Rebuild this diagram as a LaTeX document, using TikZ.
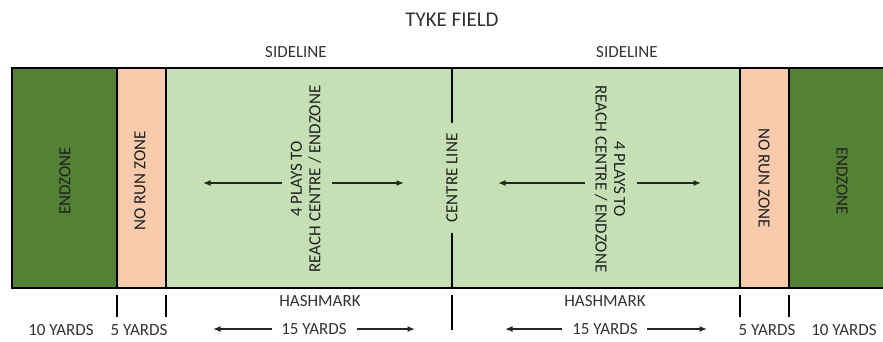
\documentclass[tikz,border=0pt]{standalone}
\usepackage{fontspec}
\setmainfont{Carlito}
\usetikzlibrary{arrows.meta}

\definecolor{endgreen}{HTML}{548235}
\definecolor{runpeach}{HTML}{F8CBAD}
\definecolor{playgreen}{HTML}{C5E0B4}
\definecolor{labelgray}{HTML}{333333}
\definecolor{fieldtext}{HTML}{202020}

\tikzset{
  lbl/.style={font=\fontsize{17}{20}\selectfont, text=labelgray, inner sep=0pt},
  fieldlbl/.style={font=\fontsize{17}{18.5}\selectfont, text=fieldtext, inner sep=0pt, align=center},
  border/.style={line width=1.9pt, black},
  tick/.style={line width=1.9pt, black},
  pointer/.style={line width=1.4pt, black!85, -{Latex[length=7.5pt,width=6pt]}},
}

\begin{document}
\begin{tikzpicture}[x=1pt, y=-1pt]
  \useasboundingbox (0,0) rectangle (883,341);

  % zones of the field
  \fill[endgreen]   (12,68)  rectangle (117,288);
  \fill[runpeach]   (117,68) rectangle (166,288);
  \fill[playgreen]  (166,68) rectangle (740,288);
  \fill[runpeach]   (740,68) rectangle (789,288);
  \fill[endgreen]   (789,68) rectangle (895,288);

  % outline and zone dividers
  \draw[border] (895,68) -- (12,68) -- (12,288) -- (895,288);
  \draw[border] (117,68) -- (117,288);
  \draw[border] (166,68) -- (166,288);
  \draw[border] (740,68) -- (740,288);
  \draw[border] (789,68) -- (789,288);

  % headings
  \node[lbl, font=\fontsize{21}{24}\selectfont] (title) at (452,20) {TYKE FIELD};
  \node[lbl] (sideL) at (296,52) {SIDELINE};
  \node[lbl] (sideR) at (627,52) {SIDELINE};

  % zone names
  \node[fieldlbl, rotate=90]  (endL) at (65,181)  {ENDZONE};
  \node[fieldlbl, rotate=-90] (endR) at (842,181) {ENDZONE};
  \node[fieldlbl, rotate=90]  (runL) at (140,181) {NO RUN ZONE};
  \node[fieldlbl, rotate=-90] (runR) at (764,178) {NO RUN ZONE};

  % centre line, broken around its label
  \coordinate (ctop) at (452,68);
  \coordinate (cbot) at (452,288);
  \node[fieldlbl, rotate=90, inner xsep=10pt] (cl) at (452,178) {CENTRE LINE};
  \draw[border] (ctop) -- (cl.east);
  \draw[border] (cl.west) -- (cbot);

  % plays to reach the centre / endzone
  \node[fieldlbl, rotate=90]  (playL) at (306,179) {4 PLAYS TO\\REACH CENTRE / ENDZONE};
  \node[fieldlbl, rotate=-90] (playR) at (610,179) {4 PLAYS TO\\REACH CENTRE / ENDZONE};
  \coordinate (pLa) at (282,183); \coordinate (pLb) at (203,183);
  \coordinate (pLc) at (332,183); \coordinate (pLd) at (404,183);
  \coordinate (pRa) at (585,183); \coordinate (pRb) at (498,183);
  \coordinate (pRc) at (637,183); \coordinate (pRd) at (701,183);
  \draw[pointer] (pLa) -- (pLb);
  \draw[pointer] (pLc) -- (pLd);
  \draw[pointer] (pRa) -- (pRb);
  \draw[pointer] (pRc) -- (pRd);

  % hashmarks and distances
  \node[lbl] (hashL) at (320,301) {HASHMARK};
  \node[lbl] (hashR) at (605,301) {HASHMARK};

  \coordinate (t1a) at (117,295); \coordinate (t1b) at (117,317);
  \coordinate (t2a) at (166,295); \coordinate (t2b) at (166,317);
  \coordinate (t3a) at (452,295); \coordinate (t3b) at (452,330);
  \coordinate (t4a) at (740,295); \coordinate (t4b) at (740,317);
  \coordinate (t5a) at (789,295); \coordinate (t5b) at (789,317);
  \draw[tick] (t1a) -- (t1b);
  \draw[tick] (t2a) -- (t2b);
  \draw[tick] (t3a) -- (t3b);
  \draw[tick] (t4a) -- (t4b);
  \draw[tick] (t5a) -- (t5b);

  \node[lbl] (tenL)  at (61,330)  {10 YARDS};
  \node[lbl] (fiveL) at (139,330) {5 YARDS};
  \node[lbl] (fiveR) at (767,330) {5 YARDS};
  \node[lbl] (tenR)  at (844,330) {10 YARDS};

  \node[lbl] (fifL) at (314,329) {15 YARDS};
  \node[lbl] (fifR) at (605,329) {15 YARDS};
  \coordinate (yLa) at (272,329); \coordinate (yLb) at (213,329);
  \coordinate (yLc) at (357,329); \coordinate (yLd) at (415,329);
  \coordinate (yRa) at (562,329); \coordinate (yRb) at (505,329);
  \coordinate (yRc) at (647,329); \coordinate (yRd) at (707,329);
  \draw[pointer] (yLa) -- (yLb);
  \draw[pointer] (yLc) -- (yLd);
  \draw[pointer] (yRa) -- (yRb);
  \draw[pointer] (yRc) -- (yRd);
\end{tikzpicture}
\end{document}
